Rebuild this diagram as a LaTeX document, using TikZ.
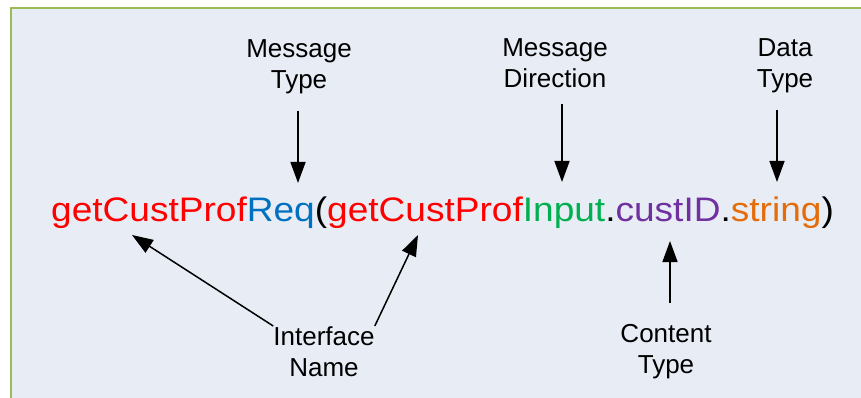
\documentclass[tikz,border=0pt]{standalone}
\usepackage{fontspec}
\setmainfont{Liberation Sans}
\usepackage{tikz}
\usetikzlibrary{arrows.meta}
\definecolor{panelbg}{HTML}{E8EDF5}
\definecolor{panelrim}{HTML}{9BBB59}
\definecolor{ifred}{HTML}{FF0000}
\definecolor{msgblue}{HTML}{0070C0}
\definecolor{dirgreen}{HTML}{00B050}
\definecolor{cntpurple}{HTML}{7030A0}
\definecolor{dtorange}{HTML}{E46C0A}
\tikzset{
  lbl/.style={font={\fontsize{26pt}{31pt}\selectfont}, align=center, inner sep=0pt, anchor=base},
  ptr/.style={line width=1.5pt, -{Triangle[length=21pt,width=15pt]}}
}

\begin{document}
\begin{tikzpicture}[x=1pt,y=-1pt]
\useasboundingbox (0,0) rectangle (861,398);
\clip (0,0) rectangle (861,398);
\fill [white] (0,0) rectangle (861,398);
\draw [panelrim, fill=panelbg, line width=2pt] (11,8) rectangle (880,420);
% the service call
\node [inner sep=0pt, anchor=base, xscale=1.09, font={\fontsize{34pt}{40pt}\selectfont}] (call) at (442.5,221)
  {\textcolor{ifred}{getCustProf}\textcolor{msgblue}{Req}(\textcolor{ifred}{getCustProf}\textcolor{dirgreen}{Input}.\textcolor{cntpurple}{custID}.\textcolor{dtorange}{string})};
% parts of the call (base = last line)
\node [lbl] (mtype) at (299,89) {Message\\Type};
\node [lbl] (mdir) at (555,88) {Message\\Direction};
\node [lbl] (dtype) at (785,88) {Data\\Type};
\node [lbl] (iname) at (324,376) {Interface\\Name};
\node [lbl] (ctype) at (666,373) {Content\\Type};
\coordinate (reqtip) at (298,183);
\coordinate (inputtip) at (562,182);
\coordinate (stringtip) at (777,182);
\coordinate (custtip) at (670,241);
\coordinate (nametipA) at (132,235);
\coordinate (nametipB) at (418,235);
\draw [ptr, shorten <=16pt] (mtype.south -| reqtip) -- (reqtip);
\draw [ptr, shorten <=16pt] (mdir.south -| inputtip) -- (inputtip);
\draw [ptr, shorten <=16pt] (dtype.south -| stringtip) -- (stringtip);
\draw [ptr, shorten <=21pt] (ctype.north -| custtip) -- (custtip);
\draw [ptr] (iname.north west) -- (nametipA);
\draw [ptr] (iname.north east) -- (nametipB);
\end{tikzpicture}
\end{document}
